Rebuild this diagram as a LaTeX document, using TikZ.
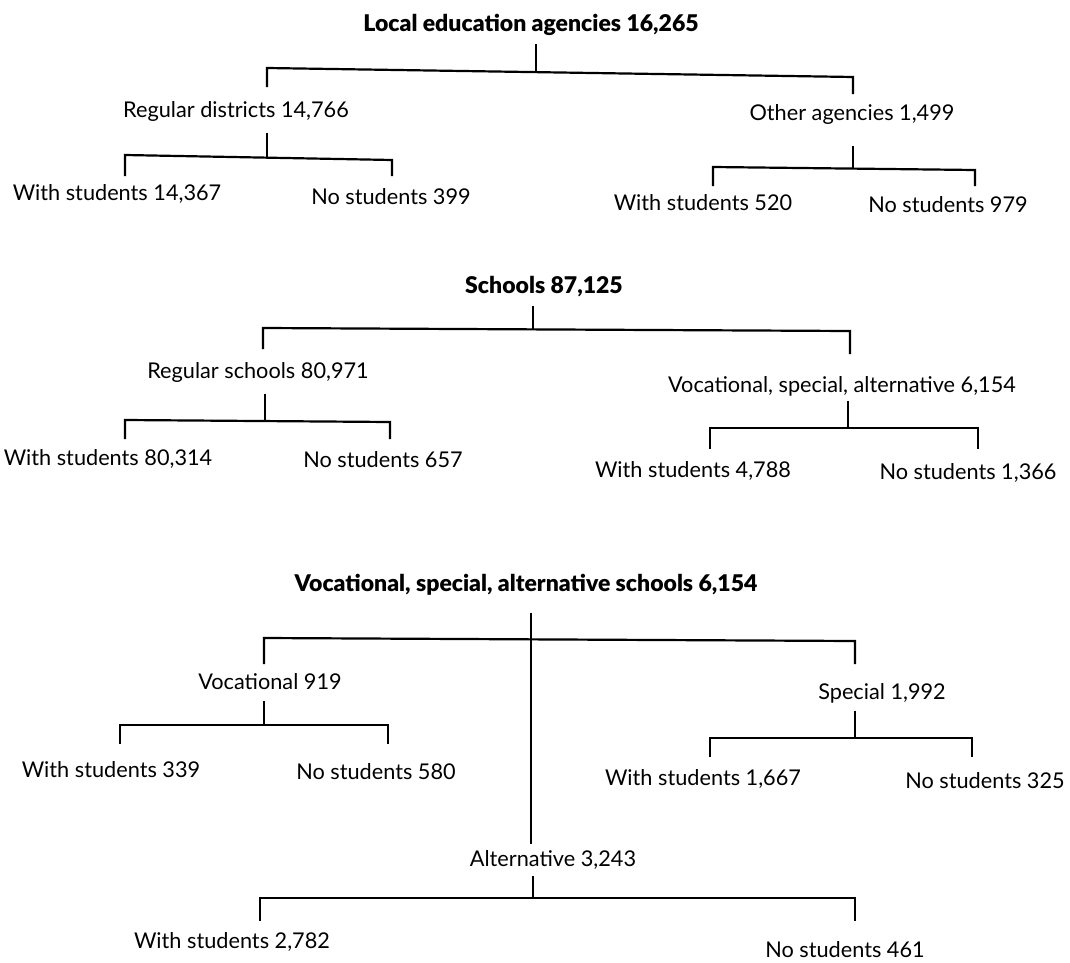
\documentclass[tikz,border=0pt]{standalone}
\usepackage{fontspec}
\setmainfont{Lato}
\newfontfamily\headfont{Lato Black}
\begin{document}
\begin{tikzpicture}[x=1pt,y=-1pt,line width=2.2pt,
  lbl/.style={inner sep=0pt,text height=15.5pt,text depth=0pt,font=\fontsize{21.7}{24}\selectfont},
  head/.style={inner sep=0pt,text height=17pt,text depth=0pt,font=\fontsize{23}{28}\headfont}]
\useasboundingbox (0,0) rectangle (1070,963);

\node[head] (lea) at (531,23.5) {Local education agencies 16,265};
\node[lbl] (reg) at (236,110) {Regular districts 14,766};
\node[lbl] (oth) at (852,113) {Other agencies 1,499};
\node[lbl] (rws) at (117,193) {With students 14,367};
\node[lbl] (rns) at (391,197) {No students 399};
\node[lbl] (ows) at (703,203) {With students 520};
\node[lbl] (ons) at (948,205) {No students 979};

\node[head] (sch) at (544,285) {Schools 87,125};
\node[lbl] (rsc) at (258,371) {Regular schools 80,971};
\node[lbl] (vsa) at (842,385) {Vocational, special, alternative 6,154};
\node[lbl] (sws) at (108,458) {With students 80,314};
\node[lbl] (sns) at (383,460) {No students 657};
\node[lbl] (vws) at (693,470) {With students 4,788};
\node[lbl] (vns) at (968,472) {No students 1,366};

\node[head] (vas) at (526,583) {Vocational, special, alternative schools 6,154};
\node[lbl] (voc) at (270,682) {Vocational 919};
\node[lbl] (spe) at (882,692) {Special 1,992};
\node[lbl] (alt) at (553,859) {Alternative 3,243};
\node[lbl] (cws) at (111,770) {With students 339};
\node[lbl] (cns) at (376,772) {No students 580};
\node[lbl] (pws) at (703,778) {With students 1,667};
\node[lbl] (pns) at (985,781) {No students 325};
\node[lbl] (aws) at (232,941) {With students 2,782};
\node[lbl] (ans) at (845,950) {No students 461};

\coordinate (lea-j) at (536,72);
\coordinate (lea-l) at (267,68);
\coordinate (lea-r) at (853,77);
\coordinate (reg-j) at (267,157);
\coordinate (reg-l) at (125,155);
\coordinate (reg-r) at (392,160);
\coordinate (oth-j) at (853,168);
\coordinate (oth-l) at (713,167);
\coordinate (oth-r) at (975,170);
\coordinate (sch-j) at (533,329);
\coordinate (sch-l) at (263,328);
\coordinate (sch-r) at (850,331);
\coordinate (rsc-j) at (265,421);
\coordinate (rsc-l) at (125,420);
\coordinate (rsc-r) at (390,422);
\coordinate (vsa-j) at (848,428);
\coordinate (vsa-l) at (710,428);
\coordinate (vsa-r) at (978,428);
\coordinate (vas-j) at (531,639);
\coordinate (vas-l) at (264,638);
\coordinate (vas-r) at (855,641);
\coordinate (voc-j) at (264,725);
\coordinate (voc-l) at (120,725);
\coordinate (voc-r) at (388,725);
\coordinate (spe-j) at (855,738);
\coordinate (spe-l) at (710,738);
\coordinate (spe-r) at (972,738);
\coordinate (alt-j) at (533,898);
\coordinate (alt-l) at (260,898);
\coordinate (alt-r) at (855,898);

\draw[shorten <=11pt] (lea-j |- lea.south) -- (lea-j);
\draw[shorten <=14pt,shorten >=10pt] (lea-l |- reg.north) -- (lea-l) -- (lea-r) -- (lea-r |- oth.north);
\draw[shorten <=14pt] (reg-j |- reg.south) -- (reg-j);
\draw[shorten <=8pt,shorten >=12pt] (reg-l |- rws.north) -- (reg-l) -- (reg-r) -- (reg-r |- rns.north);
\draw[shorten <=24pt] (oth-j |- oth.south) -- (oth-j);
\draw[shorten <=8pt,shorten >=10pt] (oth-l |- ows.north) -- (oth-l) -- (oth-r) -- (oth-r |- ons.north);

\draw[shorten <=11pt] (sch-j |- sch.south) -- (sch-j);
\draw[shorten <=13pt,shorten >=22pt] (sch-l |- rsc.north) -- (sch-l) -- (sch-r) -- (sch-r |- vsa.north);
\draw[shorten <=14pt] (rsc-j |- rsc.south) -- (rsc-j);
\draw[shorten <=10pt,shorten >=12pt] (rsc-l |- sws.north) -- (rsc-l) -- (rsc-r) -- (rsc-r |- sns.north);
\draw[shorten <=7pt] (vsa-j |- vsa.south) -- (vsa-j);
\draw[shorten <=12pt,shorten >=14pt] (vsa-l |- vws.north) -- (vsa-l) -- (vsa-r) -- (vsa-r |- vns.north);

\draw[shorten <=20pt,shorten >=6pt] (vas-j |- vas.south) -- (vas-j |- alt.north);
\draw[shorten <=9pt,shorten >=19pt] (vas-l |- voc.north) -- (vas-l) -- (vas-r) -- (vas-r |- spe.north);
\draw[shorten <=10pt] (voc-j |- voc.south) -- (voc-j);
\draw[shorten <=17pt,shorten >=19pt] (voc-l |- cws.north) -- (voc-l) -- (voc-r) -- (voc-r |- cns.north);
\draw[shorten <=10pt] (spe-j |- spe.south) -- (spe-j);
\draw[shorten <=12pt,shorten >=15pt] (spe-l |- pws.north) -- (spe-l) -- (spe-r) -- (spe-r |- pns.north);
\draw[shorten <=8pt] (alt-j |- alt.south) -- (alt-j);
\draw[shorten <=11pt,shorten >=20pt] (alt-l |- aws.north) -- (alt-l) -- (alt-r) -- (alt-r |- ans.north);
\end{tikzpicture}
\end{document}
